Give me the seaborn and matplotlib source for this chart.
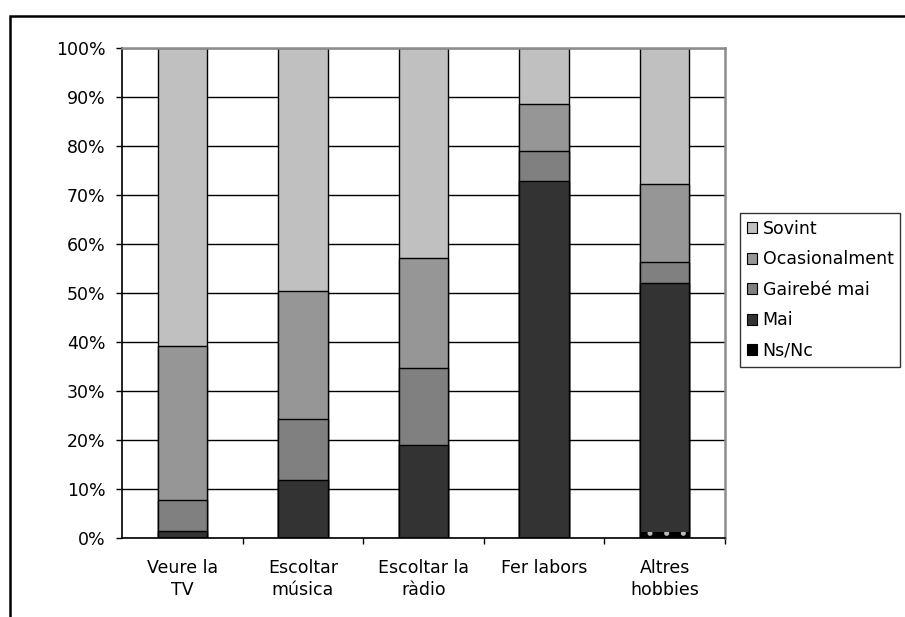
"""Stacked 100% bar chart of leisure activity frequency."""

import matplotlib

matplotlib.use("Agg")
import matplotlib.pyplot as plt
import numpy as np
import pandas as pd
import seaborn as sns
from matplotlib.patches import Rectangle
from matplotlib.ticker import FixedLocator, PercentFormatter


CATEGORIES = ["Veure la\nTV", "Escoltar\nmúsica", "Escoltar la\nràdio", "Fer labors", "Altres\nhobbies"]

# percentages, bottom to top
NS_NC = [0.2, 0.2, 0.0, 0.3, 1.2]
MAI = [1.2, 11.6, 19.0, 72.5, 50.8]
GAIREBE_MAI = [6.4, 12.5, 15.7, 6.1, 4.3]
OCASIONALMENT = [31.4, 26.2, 22.5, 9.7, 15.9]
SOVINT = [60.8, 49.5, 42.8, 11.4, 27.8]

SERIES_NAMES = ["Ns/Nc", "Mai", "Gairebé mai", "Ocasionalment", "Sovint"]
SERIES_COLORS = ["#000000", "#333333", "#808080", "#969696", "#c0c0c0"]


def build_frame():
    df = pd.DataFrame(
        {
            "cat": CATEGORIES,
            "Ns/Nc": NS_NC,
            "Mai": MAI,
            "Gairebé mai": GAIREBE_MAI,
            "Ocasionalment": OCASIONALMENT,
            "Sovint": SOVINT,
        }
    )
    # running totals so overlapping bars look stacked
    tops = np.cumsum(df[SERIES_NAMES].to_numpy(), axis=1)
    for i, name in enumerate(SERIES_NAMES):
        df[f"top_{name}"] = tops[:, i]
    return df


def main():
    sns.set_theme(style="white")
    plt.rcParams["font.family"] = ["DejaVu Sans"]
    plt.rcParams["hatch.linewidth"] = 1.2

    df = build_frame()
    fig = plt.figure(figsize=(9.05, 6.17), dpi=100)
    ax = fig.add_axes([122 / 905, 1 - 538 / 617, (725 - 122) / 905, (538 - 48) / 617])

    # draw tallest first, so each lower series sits on top of the previous
    for name, color in zip(reversed(SERIES_NAMES), reversed(SERIES_COLORS)):
        sns.barplot(
            data=df,
            x="cat",
            y=f"top_{name}",
            color=color,
            saturation=1,
            width=0.41,
            edgecolor="black",
            linewidth=1.0,
            label=name,
            ax=ax,
        )

    # Ns/Nc gets a dotted fill
    for patch in ax.containers[-1].patches:
        patch.set_hatch(".")
        patch.set_edgecolor("#bdbdbd")
        patch.set_linewidth(0)

    ax.set_xlim(-0.5, 4.5)
    ax.set_ylim(0, 100)
    ax.set_yticks(np.arange(0, 101, 10))
    ax.yaxis.set_major_formatter(PercentFormatter(decimals=0))
    ax.yaxis.grid(True, color="black", linewidth=1.0)
    ax.set_axisbelow(True)
    ax.set_xlabel("")
    ax.set_ylabel("")

    ax.tick_params(axis="y", which="major", direction="out", length=4, width=1, color="black",
                   left=True, pad=8, labelsize=12.5, labelcolor="black")
    ax.tick_params(axis="x", which="major", length=0, pad=15, labelsize=12.5, labelcolor="black")
    for lbl in ax.get_xticklabels():
        lbl.set_linespacing(1.3)
    ax.xaxis.set_minor_locator(FixedLocator([0.5, 1.5, 2.5, 3.5, 4.5]))
    ax.tick_params(axis="x", which="minor", direction="out", length=4, width=1, color="black", bottom=True)

    for side in ("left", "bottom"):
        ax.spines[side].set_color("black")
        ax.spines[side].set_linewidth(1.2)
    for side in ("top", "right"):
        ax.spines[side].set_color("#8c8c8c")
        ax.spines[side].set_linewidth(1.8)

    leg = ax.legend(
        loc="upper left",
        bbox_to_anchor=(740 / 905, 1 - 213 / 617),
        bbox_transform=fig.transFigure,
        frameon=True,
        fancybox=False,
        fontsize=12.5,
        labelcolor="black",
        handlelength=0.6,
        handleheight=0.6,
        handletextpad=0.3,
        labelspacing=0.72,
        borderpad=0.4,
        borderaxespad=0,
    )
    leg.get_frame().set_edgecolor("black")
    leg.get_frame().set_linewidth(1.0)
    for h in leg.legend_handles:
        h.set_edgecolor("black")
        h.set_linewidth(0.8)

    # outer chart-area border, cut off at right and bottom like the source
    fig.patches.append(
        Rectangle((10 / 905, -0.1), 1.2, 1.1 - 16 / 617, transform=fig.transFigure,
                  fill=False, edgecolor="black", linewidth=1.8)
    )

    fig.savefig("out.png", dpi=100, facecolor="white")
    plt.close(fig)


if __name__ == "__main__":
    main()
